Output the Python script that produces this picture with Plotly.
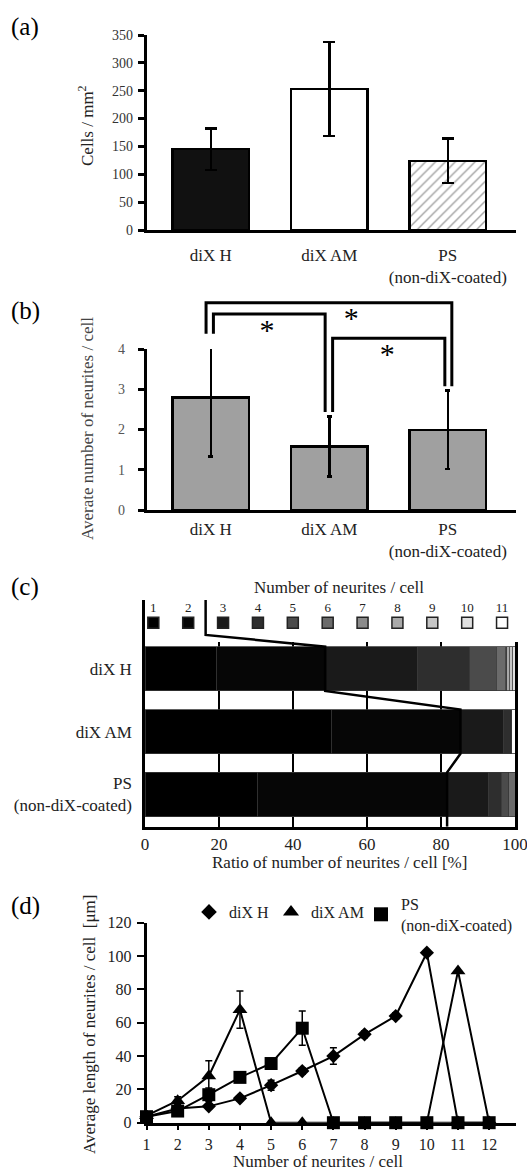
import plotly.graph_objects as go

W, H = 527, 1171
FONT = "Liberation Serif"

# ---------------- data ----------------
groups = ["diX H", "diX AM", "PS<br>(non-diX-coated)"]
group_pos = [0, 1, 2]

# (a) cell density
cells_mean = [145, 253, 124]
cells_err = [37, 84, 40]

# (b) average number of neurites
neurites_mean = [2.80, 1.58, 1.99]
neurites_err = [1.47, 0.745, 0.975]
sig_pairs = [(0, 1), (1, 2), (0, 2)]
sig_marks = ["*", "*", "*"]

# (c) ratio of number of neurites / cell [%]
neurite_classes = [str(i) for i in range(1, 12)]
ratio_diX_H = [19.2, 29.5, 25.0, 14.1, 7.1, 2.5, 0.4, 0.7, 0.8, 0.7, 0.0]
ratio_diX_AM = [50.3, 34.95, 11.75, 2.1, 0.0, 0.0, 0.0, 0.0, 0.0, 0.0, 0.9]
ratio_PS = [30.4, 51.25, 11.3, 3.4, 2.0, 1.65, 0.0, 0.0, 0.0, 0.0, 0.0]

# (d) average neurite length
n_neurites = list(range(1, 13))
len_diX_H = [3.6, 8.5, 9.8, 14.6, 22.5, 31.0, 40.0, 53.0, 64.0, 102.0, 0, 0]
err_diX_H = [1.0, 1.5, 1.5, 1.5, 3.0, 2.0, 5.0, 2.0, 2.0, 0, 0, 0]
len_diX_AM = [4.2, 13.2, 28.0, 67.8, 0, 0, 0, 0, 0, 0, 91.0, 0]
err_diX_AM = [1.0, 2.4, 9.2, 11.2, 0, 0, 0, 0, 0, 0, 0, 0]
len_PS = [3.6, 7.0, 16.8, 27.2, 35.5, 56.7, 0, 0, 0, 0, 0, 0]
err_PS = [1.0, 1.5, 4.0, 2.0, 2.0, 10.3, 0, 0, 0, 0, 0, 0]
series_names = ["diX H", "diX AM", "PS<br>(non-diX-coated)"]

# ---------------- styles / geometry ----------------
grays = ["#000000", "#060606", "#1a1a1a", "#2e2e2e", "#4b4b4b", "#6b6b6b",
         "#8b8b8b", "#a9a9a9", "#c6c6c6", "#e0e0e0", "#ffffff"]


def fx(p):
    return p / W


def fy(p):
    return 1 - p / H


# panels a & b: horizontal geometry (px)
AB_L, AB_R = 146.5, 516.0
AB_C0, AB_STEP = 210.8, 118.5
ab_range = [(AB_L - AB_C0) / AB_STEP, (AB_R - AB_C0) / AB_STEP]
BAR_W = 0.643

# panel b vertical
B_Y0, B_Y4, B_TOP = 510.0, 349.0, 295.0
b_ppu = (B_Y0 - B_Y4) / 4
b_over_top = (B_Y0 - B_TOP) / b_ppu

# panel c
C_L, C_R = 145.0, 515.0
C_AX, C_GRIDTOP, C_TOP = 826.7, 641.7, 600.0
C_HC, C_STEP = 668.8, 62.85
C_BW = 0.705
c_low = -(C_AX - (C_HC + 2 * C_STEP)) / C_STEP
c_high = 2 + (C_HC - C_GRIDTOP) / C_STEP
c_over_high = 2 + (C_HC - C_TOP) / C_STEP
leg_y = 2 + (C_HC - 622.8) / C_STEP
kink_y = 2 + (C_HC - 634.9) / C_STEP
leg_x = [2.25 + 9.425 * k for k in range(len(neurite_classes))]

# panel d
D_L, D_R = 146.5, 516.0
D_UNIT = 31.15
D_TOPPX, D_BOTPX = 922.7, 1122.7

fig = go.Figure()

# ---------------- (a) ----------------
fig.add_trace(go.Bar(
    x=group_pos, y=cells_mean, width=BAR_W,
    marker=dict(color=["#111111", "#ffffff", "#ffffff"],
                pattern=dict(shape=["", "", "/"], fgcolor="#6e6e6e",
                             bgcolor="#ffffff", size=7, solidity=0.2),
                line=dict(color="black", width=2.5)),
    error_y=dict(type="data", array=cells_err, color="black", thickness=2.5, width=6),
    xaxis="x", yaxis="y", showlegend=False, hoverinfo="skip"))

# ---------------- (b) ----------------
fig.add_trace(go.Bar(
    x=group_pos, y=neurites_mean, width=BAR_W,
    marker=dict(color="#a0a0a0", line=dict(color="black", width=2.5)),
    error_y=dict(type="data", array=neurites_err, color="black", thickness=2.5, width=2.5),
    xaxis="x2", yaxis="y2", showlegend=False, hoverinfo="skip"))

bracket_top = {(0, 1): 4.87, (1, 2): 4.27, (0, 2): 5.15}
leg_off = {(0, 1): (0.022, -0.035), (1, 2): (0.028, -0.025), (0, 2): (-0.04, 0.034)}
star_dx = {(0, 1): -0.026, (1, 2): -0.01, (0, 2): 0.186}
for (i, j), mark in zip(sig_pairs, sig_marks):
    top = bracket_top[(i, j)]
    oi, oj = leg_off[(i, j)]
    xi, xj = group_pos[i] + oi, group_pos[j] + oj
    yi = neurites_mean[i] + neurites_err[i] + 0.11
    yj = neurites_mean[j] + neurites_err[j] + 0.11
    fig.add_trace(go.Scatter(
        x=[xi, xi, xj, xj], y=[yi, top, top, yj], mode="lines",
        line=dict(color="black", width=3), xaxis="x3", yaxis="y3",
        showlegend=False, hoverinfo="skip"))
    fig.add_trace(go.Scatter(
        x=[(group_pos[i] + group_pos[j]) / 2 + star_dx[(i, j)]], y=[top - 0.45],
        mode="text", text=[mark], textposition="middle center",
        textfont=dict(family=FONT, size=30, color="black"),
        xaxis="x3", yaxis="y3", showlegend=False, hoverinfo="skip", cliponaxis=False))

# ---------------- (c) ----------------
rows = [ratio_PS, ratio_diX_AM, ratio_diX_H]  # y = 0, 1, 2
for k, cls in enumerate(neurite_classes):
    xs = [r[k] if r[k] > 0 else None for r in rows]
    fig.add_trace(go.Bar(
        x=xs, y=[0, 1, 2], orientation="h", width=C_BW,
        marker=dict(color=grays[k], line=dict(color="#3a3a3a", width=0.8)),
        xaxis="x4", yaxis="y4", showlegend=False, hoverinfo="skip"))

fig.add_trace(go.Scatter(
    x=leg_x, y=[leg_y] * len(leg_x), mode="markers+text", text=neurite_classes,
    textposition="top center",
    textfont=dict(family=FONT, size=13, color="#222222"),
    marker=dict(symbol="square", size=11, color=grays, line=dict(color="#222222", width=1.5)),
    xaxis="x5", yaxis="y5", showlegend=False, hoverinfo="skip", cliponaxis=False))

cum2 = [sum(r[:2]) for r in [ratio_diX_H, ratio_diX_AM, ratio_PS]]
lx0 = (leg_x[1] + leg_x[2]) / 2
line_x = [lx0, lx0]
line_y = [c_over_high, kink_y]
for yc, c in zip([2, 1, 0], cum2):
    line_x += [c, c]
    line_y += [yc + C_BW / 2, yc - C_BW / 2]
line_y[-1] = c_low
fig.add_trace(go.Scatter(
    x=line_x, y=line_y, mode="lines", line=dict(color="black", width=2.5),
    xaxis="x5", yaxis="y5", showlegend=False, hoverinfo="skip"))

# ---------------- (d) ----------------
d_series = [
    (len_diX_H, err_diX_H, "diamond", 11),
    (len_diX_AM, err_diX_AM, "triangle-up", 13),
    (len_PS, err_PS, "square", 13),
]
for ys, es, sym, sz in d_series:
    fig.add_trace(go.Scatter(
        x=n_neurites, y=ys, mode="lines+markers",
        line=dict(color="black", width=2),
        marker=dict(symbol=sym, size=sz, color="black"),
        error_y=dict(type="data", array=es, color="black", thickness=1.5, width=3.5),
        xaxis="x6", yaxis="y6", showlegend=False, hoverinfo="skip", cliponaxis=False))

legend_names = ["legend", "legend2", "legend3"]
for (ys, es, sym, sz), name, lg in zip(d_series, series_names, legend_names):
    fig.add_trace(go.Scatter(
        x=[None], y=[None], mode="markers", name=name,
        marker=dict(symbol=sym, size=sz + 1, color="black"),
        xaxis="x6", yaxis="y6", showlegend=True, legend=lg))

# ---------------- layout ----------------
tick_font = dict(family=FONT, size=14, color="#333333")
cat_font = dict(family=FONT, size=17, color="#222222")
base_axis = dict(showgrid=False, zeroline=False, linecolor="black", linewidth=2.5,
                 showline=True, automargin=False)
hidden = dict(visible=False, showgrid=False, zeroline=False, automargin=False)

layout = dict(
    width=W, height=H, margin=dict(l=0, r=0, t=0, b=0),
    paper_bgcolor="white", plot_bgcolor="rgba(0,0,0,0)",
    barmode="stack", showlegend=True,
    font=dict(family=FONT, color="#222222"),
    # (a)
    xaxis=dict(base_axis, domain=[fx(AB_L), fx(AB_R)], range=ab_range, anchor="y",
               tickvals=group_pos, ticktext=groups, ticks="", tickfont=cat_font,
               ticklabelstandoff=8),
    yaxis=dict(base_axis, domain=[fy(230), fy(35)], range=[0, 350], dtick=50, anchor="x",
               ticks="outside", ticklen=6, tickwidth=2.5, tickcolor="black",
               tickfont=tick_font, ticklabelstandoff=2),
    # (b)
    xaxis2=dict(base_axis, domain=[fx(AB_L), fx(AB_R)], range=ab_range, anchor="y2",
                tickvals=group_pos, ticktext=groups, ticks="", tickfont=cat_font,
                ticklabelstandoff=2),
    yaxis2=dict(base_axis, domain=[fy(B_Y0), fy(B_Y4)], range=[0, 4], dtick=1, anchor="x2",
                ticks="outside", ticklen=6, tickwidth=2.5, tickcolor="black",
                tickfont=dict(family=FONT, size=14, color="#555555"), ticklabelstandoff=10),
    xaxis3=dict(hidden, domain=[fx(AB_L), fx(AB_R)], range=ab_range, anchor="y3"),
    yaxis3=dict(hidden, domain=[fy(B_Y0), fy(B_TOP)], range=[0, b_over_top], anchor="x3"),
    # (c)
    xaxis4=dict(base_axis, domain=[fx(C_L), fx(C_R)], range=[0, 100], anchor="y4",
                tickvals=[0, 20, 40, 60, 80, 100], ticks="",
                showgrid=True, gridcolor="black", gridwidth=1.5,
                ticklabeloverflow="allow",
                tickfont=dict(family=FONT, size=17, color="#222222"), ticklabelstandoff=0),
    yaxis4=dict(base_axis, domain=[fy(C_AX), fy(C_GRIDTOP)], range=[c_low, c_high],
                anchor="x4", mirror=True, tickvals=[0, 1, 2], ticktext=groups[::-1],
                ticks="", tickfont=cat_font, ticklabelstandoff=7),
    xaxis5=dict(hidden, domain=[fx(C_L), fx(C_R)], range=[0, 100], anchor="y5"),
    yaxis5=dict(base_axis, domain=[fy(C_AX), fy(C_TOP)], range=[c_low, c_over_high],
                anchor="x5", ticks="", showticklabels=False),
    # (d)
    xaxis6=dict(base_axis, domain=[fx(D_L), fx(D_R)], range=[1, 1 + (D_R - D_L) / D_UNIT],
                anchor="y6", tickvals=n_neurites, ticks="outside", ticklen=5, tickwidth=2,
                tickcolor="black", tickfont=dict(family=FONT, size=16, color="#222222")),
    yaxis6=dict(base_axis, domain=[fy(D_BOTPX), fy(D_TOPPX)], range=[0, 120], dtick=20,
                anchor="x6", ticks="outside", ticklen=7, tickwidth=2, tickcolor="black",
                tickfont=dict(family=FONT, size=16, color="#222222"), ticklabelstandoff=2),
)

leg_common = dict(xanchor="left", yanchor="middle", bgcolor="rgba(0,0,0,0)",
                  borderwidth=0, itemsizing="trace",
                  font=dict(family=FONT, size=16, color="#222222"))
layout["legend"] = dict(leg_common, x=fx(209 - 20), y=fy(912))
layout["legend2"] = dict(leg_common, x=fx(291 - 20), y=fy(912))
layout["legend3"] = dict(leg_common, x=fx(381 - 20), y=fy(914.5))

annotations = []
for lab, yy in [("(a)", 27), ("(b)", 311), ("(c)", 587), ("(d)", 906)]:
    annotations.append(dict(text=lab, x=fx(25), y=fy(yy), xref="paper", yref="paper",
                            showarrow=False, xanchor="center", yanchor="middle",
                            font=dict(family=FONT, size=25, color="black")))
ytitles = [
    ("Cells / mm<sup>2</sup>", 86, 126, "#222222"),
    ("Averate number of neurites / cell", 87, 429, "#444444"),
    ("Average length of neurites / cell\u00a0 [\u03bcm]", 89, 1025, "#222222"),
]
for txt, xx, yy, col in ytitles:
    annotations.append(dict(text=txt, x=fx(xx), y=fy(yy), xref="paper", yref="paper",
                            textangle=-90, showarrow=False, xanchor="center", yanchor="middle",
                            font=dict(family=FONT, size=17, color=col)))
annotations.append(dict(text="Number of neurites / cell", x=52.5, y=fy(587.3),
                        xref="x4", yref="paper", showarrow=False,
                        xanchor="center", yanchor="middle",
                        font=dict(family=FONT, size=17, color="#222222")))
annotations.append(dict(text="Ratio of number of neurites / cell [%]", x=52.5, y=fy(862.8),
                        xref="x4", yref="paper", showarrow=False,
                        xanchor="center", yanchor="middle",
                        font=dict(family=FONT, size=17, color="#222222")))
annotations.append(dict(text="Number of neurites / cell", x=6.5, y=fy(1161),
                        xref="x6", yref="paper", showarrow=False,
                        xanchor="center", yanchor="middle",
                        font=dict(family=FONT, size=17, color="#222222")))
layout["annotations"] = annotations

fig.update_layout(**layout)
fig.write_html(
    "out.html",
    config={"displayModeBar": False},
    post_script="document.body.style.margin='0';document.body.style.overflow='hidden';")
